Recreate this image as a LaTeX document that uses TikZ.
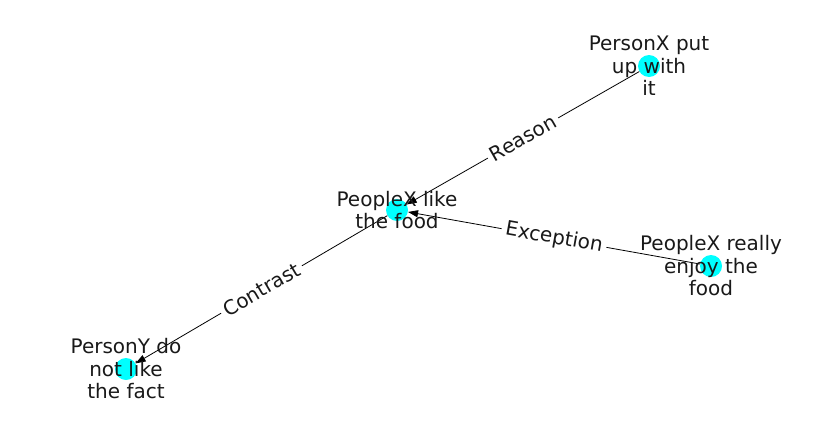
\documentclass[tikz,border=0pt]{standalone}
\usepackage{fontspec}
\setmainfont{DejaVu Sans}
\usetikzlibrary{arrows.meta}
\definecolor{aqua}{RGB}{0,255,255}
\begin{document}
\begin{tikzpicture}[x=1pt,y=-1pt,
  dot/.style={circle,fill=aqua,minimum size=22pt,inner sep=0pt},
  txt/.style={align=center,font=\fontsize{20}{22.5}\selectfont,text=black!90},
  edge/.style={line width=0.8pt,-{Triangle[length=10pt,width=7pt]}},
  lbl/.style={fill=white,inner sep=4pt,sloped,font=\fontsize{20}{22}\selectfont,text=black!90}]
\useasboundingbox(0,0)rectangle(837,434);
\node[dot](put)at(649,66){};
\node[dot](like)at(397,210){};
\node[dot](enjoy)at(711,266){};
\node[dot](dislike)at(126,369){};
\draw[edge](put)--node[lbl]{Reason}(like);
\draw[edge](enjoy)--node[lbl]{Exception}(like);
\draw[edge](like)--node[lbl]{Contrast}(dislike);
\node[txt]at(put){PersonX put\\up with\\it};
\node[txt]at(like){PeopleX like\\the food};
\node[txt]at(enjoy){PeopleX really\\enjoy the\\food};
\node[txt]at(dislike){PersonY do\\not like\\the fact};
\end{tikzpicture}
\end{document}
